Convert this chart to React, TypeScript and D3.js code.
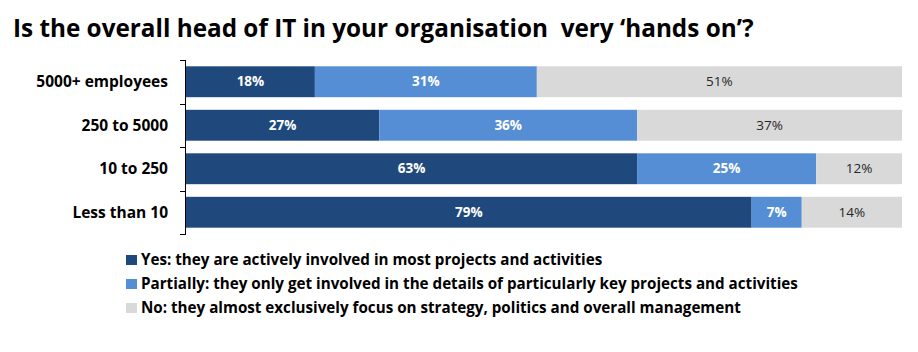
import React from 'react';
import * as d3 from 'd3';

// chart data
const title = 'Is the overall head of IT in your organisation  very \u2018hands on\u2019?';
const categories = ['5000+ employees', '250 to 5000', '10 to 250', 'Less than 10'];
const yesValues = [18, 27, 63, 79];
const partiallyValues = [31, 36, 25, 7];
const noValues = [51, 37, 12, 14];
const seriesNames = [
  'Yes: they are actively involved in most projects and activities',
  'Partially: they only get involved in the details of particularly key projects and activities',
  'No: they almost exclusively focus on strategy, politics and overall management',
];
const seriesColors = ['#1f497d', '#558ed5', '#d9d9d9'];
const labelColors = ['#ffffff', '#ffffff', '#262626'];

const width = 918;
const height = 352;
const marginLeft = 186;
const marginRight = 16;
const plotTop = 60;
const plotBottom = 234;
const font = '"Open Sans", Lato, sans-serif';

export default function App() {
  const series = [yesValues, partiallyValues, noValues];

  const x = d3.scaleLinear().domain([0, 100]).range([marginLeft, width - marginRight]);
  const y = d3.scaleBand<string>()
    .domain(categories)
    .range([plotTop, plotBottom])
    .paddingInner(0.29)
    .paddingOuter(0.145);

  // stack the three answers per row
  const rows = categories.map((c, i) => ({
    category: c,
    yes: yesValues[i],
    partially: partiallyValues[i],
    no: noValues[i],
  }));
  const stacked = d3.stack<any>().keys(['yes', 'partially', 'no'])(rows);

  const step = y.step();
  const tickYs = d3.range(categories.length + 1).map(i => plotTop + i * step);

  return (
    <svg width={width} height={height} style={{position: 'fixed', left: 0, top: 0, background: '#fff'}}
      fontFamily={font}>
      <text x={13} y={37} fontSize={24.3} fontWeight={700} fill="#000" style={{whiteSpace: 'pre'}}>{title}</text>

      {/* bars */}
      {stacked.map((layer, si) => (
        <g key={si}>
          {layer.map((d, i) => (
            <rect key={i}
              x={x(d[0])}
              y={y(categories[i])}
              width={x(d[1]) - x(d[0])}
              height={y.bandwidth()}
              fill={seriesColors[si]} />
          ))}
          {layer.map((d, i) => (
            <text key={'t' + i}
              x={(x(d[0]) + x(d[1])) / 2}
              y={(y(categories[i]) as number) + y.bandwidth() / 2}
              dy="0.35em"
              textAnchor="middle"
              fontSize={13.5}
              fontWeight={si < 2 ? 700 : 400}
              fill={labelColors[si]}>
              {series[si][i]}%
            </text>
          ))}
        </g>
      ))}

      {/* category axis */}
      <g stroke="#000" strokeWidth={1}>
        <line x1={marginLeft - 0.5} x2={marginLeft - 0.5} y1={plotTop} y2={plotBottom} />
        {tickYs.map((t, i) => (
          <line key={i} x1={marginLeft - 6} x2={marginLeft} y1={Math.round(t) + 0.5} y2={Math.round(t) + 0.5} />
        ))}
      </g>
      {categories.map(c => (
        <text key={c}
          x={168}
          y={(y(c) as number) + y.bandwidth() / 2}
          dy="0.35em"
          textAnchor="end"
          fontSize={15.5}
          fontWeight={700}
          fill="#000">
          {c}
        </text>
      ))}

      {/* legend */}
      {seriesNames.map((name, i) => (
        <g key={name} transform={`translate(126,${260 + i * 24})`}>
          <rect x={0} y={-5} width={11} height={10} fill={seriesColors[i]} />
          <text x={15} y={0} dy="0.35em" fontSize={15.2} fontWeight={700} fill="#000">{name}</text>
        </g>
      ))}
    </svg>
  );
}
